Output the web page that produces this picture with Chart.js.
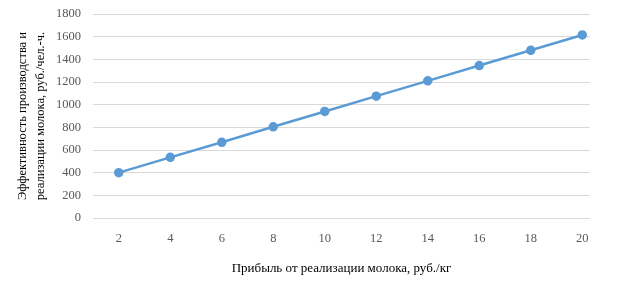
<!DOCTYPE html>
<html>
<head>
<meta charset="utf-8">
<script src="https://cdn.jsdelivr.net/npm/chart.js@4.4.1/dist/chart.umd.min.js"></script>
<style>
  html, body { margin: 0; padding: 0; background: #ffffff; }
  #wrap { width: 623px; height: 288px; position: relative; }
</style>
</head>
<body>
<div id="wrap"><canvas id="c" width="623" height="288"></canvas></div>
<script>
const profitPerKg = [2, 4, 6, 8, 10, 12, 14, 16, 18, 20];
const efficiency = [400, 535, 668, 805, 940, 1075, 1210, 1345, 1480, 1615];
const yTickValues = [0, 200, 400, 600, 800, 1000, 1200, 1400, 1600, 1800];
const xTitle = 'Прибыль от реализации молока, руб./кг';
const yTitle = ['Эффективность производства и', 'реализации молока, руб./чел.-ч.'];

const serif = '"Liberation Serif", "Times New Roman", serif';

new Chart(document.getElementById('c'), {
  type: 'line',
  data: {
    datasets: [{
      data: profitPerKg.map((x, i) => ({ x: x, y: efficiency[i] })),
      borderColor: '#5B9BD5',
      backgroundColor: '#5B9BD5',
      borderWidth: 2.5,
      pointRadius: 3.5,
      pointHoverRadius: 3.5,
      tension: 0
    }]
  },
  options: {
    responsive: false,
    animation: false,
    layout: { padding: { left: 13, right: 33, top: 14, bottom: 0 } },
    plugins: { legend: { display: false }, tooltip: { enabled: false } },
    scales: {
      x: {
        type: 'linear',
        min: 1,
        max: 20.3,
        afterBuildTicks: (axis) => { axis.ticks = profitPerKg.map(v => ({ value: v })); },
        afterFit: (axis) => { axis.height = 70; },
        grid: { display: false, drawTicks: false },
        border: { display: false },
        ticks: {
          padding: 13,
          color: '#595959',
          font: { family: serif, size: 12.5 },
          maxRotation: 0,
          autoSkip: false,
          callback: (v) => String(v)
        },
        title: {
          display: true,
          text: xTitle,
          color: '#000000',
          font: { family: serif, size: 13 },
          padding: { top: 6, bottom: 12 }
        }
      },
      y: {
        min: 0,
        max: 1800,
        afterBuildTicks: (axis) => { axis.ticks = yTickValues.map(v => ({ value: v })); },
        afterFit: (axis) => { axis.width = 80; axis.paddingTop = 0; axis.paddingBottom = 0; },
        grid: { color: '#D9D9D9', lineWidth: 1, drawTicks: false },
        border: { display: false },
        ticks: {
          padding: 12,
          color: '#595959',
          font: { family: serif, size: 12.5 },
          callback: (v) => String(v)
        },
        title: {
          display: true,
          text: yTitle,
          color: '#000000',
          font: { family: serif, size: 12.5, lineHeight: 1.5 },
          padding: { top: 0, bottom: 0 }
        }
      }
    }
  }
});
</script>
</body>
</html>
